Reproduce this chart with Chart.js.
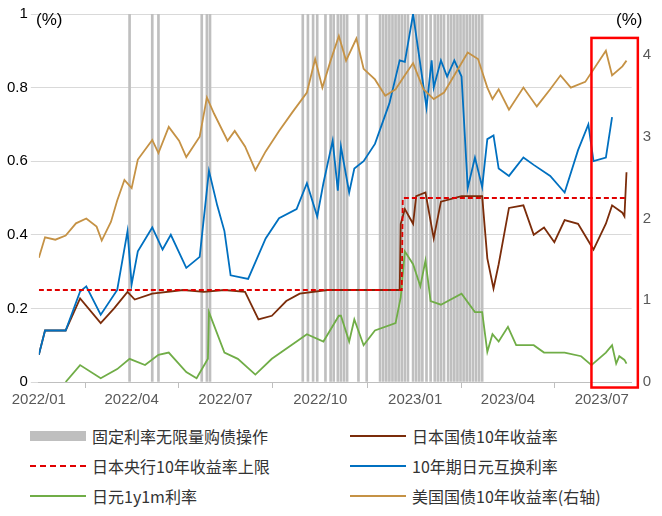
<!DOCTYPE html>
<html><head><meta charset="utf-8">
<script src="https://cdn.jsdelivr.net/npm/chart.js@4"></script>
<style>
body{margin:0;background:#fff;font-family:"Noto Sans CJK SC","DejaVu Sans",sans-serif;}
#wrap{position:relative;width:662px;height:516px;}
#c{position:absolute;left:0;top:0;}
.pct{position:absolute;top:10px;font-size:17px;color:#000;font-family:"Liberation Sans",sans-serif;}
#legend{position:absolute;left:30px;top:424px;display:grid;grid-template-columns:320px 300px;row-gap:6px;font-size:16px;color:#333;}
#legend div{display:flex;align-items:center;}
.sw{display:inline-block;width:56px;margin-right:6px;}
</style></head>
<body><div id="wrap">
<canvas id="c" width="662" height="412"></canvas>
<span class="pct" style="left:36px">(%)</span>
<span class="pct" style="left:616px">(%)</span>
<div id="legend">
  <div><span class="sw" style="height:10px;background:#bfbfbf"></span>固定利率无限量购债操作</div>
  <div><span class="sw" style="height:2px;background:#7b2c0a"></span>日本国债10年收益率</div>
  <div><span class="sw" style="border-top:2px dashed #e00000"></span>日本央行10年收益率上限</div>
  <div><span class="sw" style="height:2px;background:#0070c0"></span>10年期日元互换利率</div>
  <div><span class="sw" style="height:2px;background:#70ad47"></span>日元1y1m利率</div>
  <div><span class="sw" style="height:2px;background:#c59245"></span>美国国债10年收益率(右轴)</div>
</div>
</div>
<script>
// x values are days since 2022-01-01
const tickDays = [0, 90, 181, 273, 365, 455, 546];
const tickLabels = ['2022/01', '2022/04', '2022/07', '2022/10', '2023/01', '2023/04', '2023/07'];

const opDays = [88,110,116,158,163,166,256,261,266,270,278,283,286,290,293,296,299,310,318,331,334,337,340,343,346,349,352,355,358,363,366,369,372,376,380,384,387,390,393,397,400,403,406,409,412,415,418,421,424,427,430];

const jgbDays = [0,6,26,40,60,73,86,93,110,140,160,180,200,213,226,240,253,280,320,350,351,355,363,366,375,383,390,410,430,435,441,446,456,470,480,490,500,510,523,538,550,556,566,568,570];
const jgbVals = [0.074,0.14,0.14,0.227,0.16,0.2,0.245,0.224,0.24,0.25,0.245,0.25,0.245,0.17,0.18,0.22,0.24,0.25,0.25,0.25,0.43,0.47,0.43,0.505,0.515,0.39,0.49,0.505,0.505,0.336,0.254,0.32,0.473,0.48,0.40,0.42,0.38,0.44,0.43,0.36,0.43,0.48,0.46,0.45,0.57];

const capDays = [0, 352, 353, 570];
const capVals = [0.25, 0.25, 0.5, 0.5];

const swapDays = [0,6,26,40,46,60,76,86,90,96,110,120,128,143,156,165,173,180,186,203,220,233,250,260,270,276,285,290,293,301,306,315,326,340,350,355,363,376,381,383,390,396,403,410,416,423,430,435,441,446,456,470,480,496,510,523,533,538,550,556,560,563,568,570];
const swapVals = [0.074,0.14,0.14,0.246,0.26,0.183,0.25,0.41,0.265,0.355,0.42,0.36,0.40,0.31,0.34,0.574,0.48,0.41,0.29,0.28,0.39,0.445,0.47,0.54,0.45,0.54,0.656,0.52,0.64,0.515,0.58,0.60,0.647,0.757,0.874,0.87,1.0,0.746,0.874,0.80,0.874,0.83,0.874,0.83,0.527,0.61,0.53,0.66,0.67,0.58,0.56,0.61,0.59,0.56,0.515,0.63,0.70,0.60,0.61,0.72];

const yenDays = [26,40,60,76,88,103,116,126,143,153,164,165,180,193,210,226,250,260,276,291,293,301,306,315,326,346,351,355,363,370,375,380,390,410,423,430,435,440,446,455,463,480,490,510,526,536,550,556,560,563,568,570];
const yenVals = [0,0.046,0.01,0.035,0.063,0.046,0.074,0.08,0.027,0.01,0.063,0.19,0.08,0.063,0.02,0.063,0.11,0.13,0.11,0.18,0.18,0.11,0.17,0.10,0.14,0.16,0.23,0.355,0.32,0.26,0.33,0.22,0.21,0.24,0.19,0.19,0.082,0.13,0.11,0.15,0.10,0.10,0.08,0.08,0.07,0.046,0.08,0.10,0.05,0.07,0.06,0.05];

const ustDays = [0,6,16,26,36,46,56,61,70,76,83,90,96,110,116,126,136,143,156,163,170,183,190,200,210,220,233,246,260,268,275,283,291,298,308,315,326,336,346,355,363,373,383,393,403,416,426,435,440,446,456,470,483,496,506,516,530,550,556,566,570];
const ustVals = [1.52,1.77,1.74,1.79,1.94,2.0,1.9,1.73,1.96,2.22,2.47,2.37,2.72,2.96,2.8,3.12,2.95,2.75,3.0,3.48,3.28,2.95,3.07,2.88,2.59,2.82,3.07,3.3,3.54,3.95,3.6,3.93,4.23,3.93,4.2,3.83,3.7,3.5,3.58,3.75,3.9,3.58,3.46,3.54,3.75,4.03,3.95,3.6,3.46,3.58,3.33,3.6,3.37,3.58,3.75,3.6,3.67,4.05,3.75,3.86,3.93];

const pts = (d, v) => d.map((x, i) => ({ x: x, y: v[i] }));
const line = (label, d, v, color, axis, extra) => Object.assign({
  type: 'line', label, data: pts(d, v), borderColor: color, borderWidth: 1.8,
  pointRadius: 0, tension: 0, yAxisID: axis, order: 1
}, extra || {});

// red box around the latest period
const boxPlugin = {
  id: 'box',
  afterDatasetsDraw(chart) {
    const { ctx, scales } = chart;
    const x1 = scales.x.getPixelForValue(536), x2 = scales.x.getPixelForValue(581);
    const y1 = scales.y.getPixelForValue(0.935), y2 = scales.y.getPixelForValue(-0.015);
    ctx.save();
    ctx.strokeStyle = '#ff0000'; ctx.lineWidth = 2.5;
    ctx.strokeRect(x1, y1, x2 - x1, y2 - y1);
    ctx.restore();
  }
};

new Chart(document.getElementById('c'), {
  data: {
    datasets: [
      { type: 'bar', label: 'ops', data: opDays.map(d => ({ x: d, y: 1 })), backgroundColor: '#bfbfbf', barThickness: 2, yAxisID: 'y', order: 10 },
      line('cap', capDays, capVals, '#e00000', 'y', { borderDash: [5, 3], order: 0 }),
      line('ust', ustDays, ustVals, '#c59245', 'y1'),
      line('swap', swapDays, swapVals, '#0070c0', 'y'),
      line('jgb', jgbDays, jgbVals, '#7b2c0a', 'y'),
      line('yen', yenDays, yenVals, '#70ad47', 'y')
    ]
  },
  options: {
    responsive: false, animation: false,
    layout: { padding: { top: 14, right: 8, left: 4 } },
    plugins: { legend: { display: false }, tooltip: { enabled: false } },
    scales: {
      x: {
        type: 'linear', min: 0, max: 575, offset: false,
        afterBuildTicks: s => { s.ticks = tickDays.map(v => ({ value: v })); },
        ticks: { callback: (v) => tickLabels[tickDays.indexOf(v)], color: '#595959', font: { size: 15, family: 'Liberation Sans' }, maxRotation: 0, autoSkip: false },
        grid: { drawOnChartArea: false, color: '#bfbfbf', tickLength: 6 },
        border: { color: '#bfbfbf' }
      },
      y: {
        position: 'left', min: 0, max: 1,
        ticks: { stepSize: 0.2, color: '#000', font: { size: 15, family: 'Liberation Sans' }, callback: v => +v.toFixed(1) },
        grid: { color: '#d9d9d9' }, border: { display: false }
      },
      y1: {
        position: 'right', min: 0, max: 4.5,
        afterBuildTicks: s => { s.ticks = [0, 1, 2, 3, 4].map(v => ({ value: v })); },
        ticks: { color: '#595959', font: { size: 15, family: 'Liberation Sans' } },
        grid: { display: false }, border: { display: false }
      }
    }
  },
  plugins: [boxPlugin]
});
</script>
</body></html>
